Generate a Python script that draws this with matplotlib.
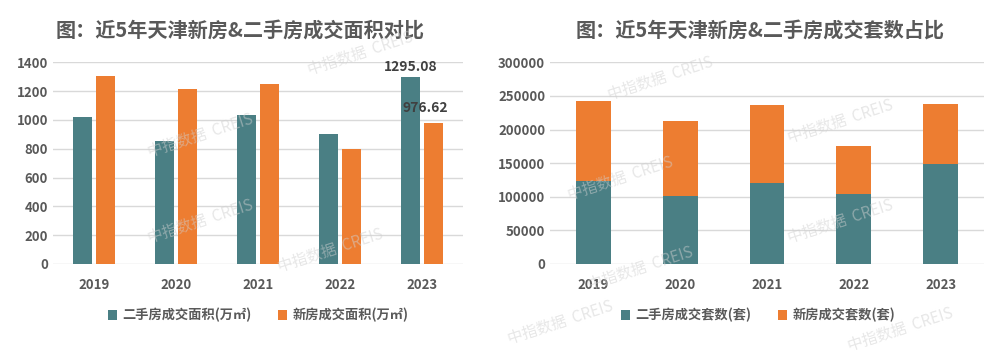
import numpy as np
import matplotlib.pyplot as plt

plt.rcParams['font.family'] = ['Noto Sans CJK SC', 'DejaVu Sans']

# data
years = ['2019', '2020', '2021', '2022', '2023']
area_second = [1022, 856, 1034, 902, 1295.08]
area_new = [1305, 1215, 1247, 798, 976.62]
cnt_second = [123000, 101000, 121000, 104000, 148000]
cnt_total = [242000, 212000, 237000, 175500, 238500]
cnt_new = [t - s for t, s in zip(cnt_total, cnt_second)]

teal = '#4A7F84'
orange = '#ED7D31'
grey = '#595959'
grid = '#D9D9D9'

fig = plt.figure(figsize=(10, 3.58), dpi=100)

def style(ax):
    for s in ax.spines.values():
        s.set_visible(False)
    ax.tick_params(length=0, labelsize=9.5, labelcolor=grey)
    ax.tick_params(axis='x', pad=10)
    for lab in ax.get_xticklabels() + ax.get_yticklabels():
        lab.set_fontweight('bold')
    ax.yaxis.grid(True, color=grid, linewidth=1)
    ax.set_axisbelow(True)

def legend(ax, xc):
    leg = ax.legend(loc='upper center', bbox_to_anchor=(xc, -0.16), ncol=2, frameon=False,
                    fontsize=9.5, handlelength=0.7, handleheight=0.7, columnspacing=2,
                    handletextpad=0.4)
    for t in leg.get_texts():
        t.set_color(grey)
        t.set_fontweight('bold')

# left
ax1 = fig.add_axes([0.053, 0.2626, 0.41, 0.5634])
x = np.arange(len(years))
w = 0.225
ax1.bar(x - w / 2 - 0.03, area_second, w, color=teal, label='二手房成交面积(万㎡)')
ax1.bar(x + w / 2 + 0.03, area_new, w, color=orange, label='新房成交面积(万㎡)')
ax1.set_xlim(-0.5, 4.5)
ax1.set_ylim(0, 1400)
ax1.set_yticks(range(0, 1401, 200))
ax1.set_xticks(x)
ax1.set_xticklabels(years)
style(ax1)
ax1.text(x[-1] - w / 2 - 0.03, area_second[-1] + 25, '%.2f' % area_second[-1],
         ha='center', va='bottom', fontsize=10, fontweight='bold', color='#404040')
ax1.text(x[-1] + w / 2 + 0.03 - 0.1, area_new[-1] + 55, '%.2f' % area_new[-1],
         ha='center', va='bottom', fontsize=10, fontweight='bold', color='#404040')
legend(ax1, 0.5)
fig.text(0.24, 0.915, '图：近5年天津新房&二手房成交面积对比', ha='center', va='center',
         fontsize=14.5, fontweight='bold', color=grey)

# right
ax2 = fig.add_axes([0.55, 0.2626, 0.434, 0.5634])
w2 = 0.4
ax2.bar(x, cnt_second, w2, color=teal, label='二手房成交套数(套)')
ax2.bar(x, cnt_new, w2, bottom=cnt_second, color=orange, label='新房成交套数(套)')
ax2.set_xlim(-0.5, 4.5)
ax2.set_ylim(0, 300000)
ax2.set_yticks(range(0, 300001, 50000))
ax2.set_xticks(x)
ax2.set_xticklabels(years)
style(ax2)
legend(ax2, 0.48)
fig.text(0.76, 0.915, '图：近5年天津新房&二手房成交套数占比', ha='center', va='center',
         fontsize=14.5, fontweight='bold', color=grey)

# watermarks
marks = [(0.36, 0.85), (0.2, 0.62), (0.2, 0.38), (0.33, 0.30), (0.56, 0.10),
         (0.62, 0.5), (0.66, 0.78), (0.84, 0.66), (0.84, 0.38), (0.64, 0.25),
         (0.9, 0.08)]
for mx, my in marks:
    fig.text(mx, my, '中指数据  CREIS', rotation=18, fontsize=11,
             color='#D0D0D0', alpha=0.5, ha='center', va='center')

fig.savefig('out.png', dpi=100)
